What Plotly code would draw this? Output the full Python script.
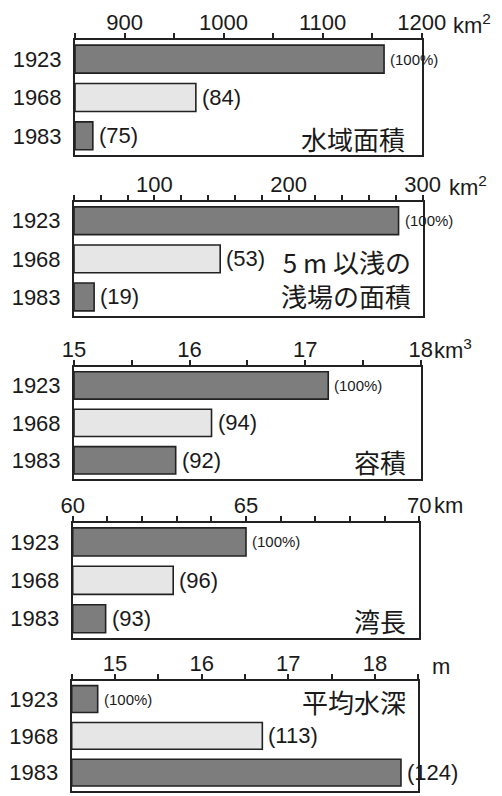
import plotly.graph_objects as go

W, H = 502, 796

years = ["1923", "1968", "1983"]

area_vals = [1162, 972, 868]
area_labels = ["(100%)", "(84)", "(75)"]

shallow_vals = [282, 149, 55]
shallow_labels = ["(100%)", "(53)", "(19)"]

volume_vals = [17.2, 16.19, 15.88]
volume_labels = ["(100%)", "(94)", "(92)"]

length_vals = [65.0, 62.9, 60.95]
length_labels = ["(100%)", "(96)", "(93)"]

depth_vals = [14.8, 16.7, 18.3]
depth_labels = ["(100%)", "(113)", "(124)"]

titles = ["水域面積", "5 m 以浅の<br>浅場の面積", "容積", "湾長", "平均水深"]
units = ["km<sup>2</sup>", "km<sup>2</sup>", "km<sup>3</sup>", "km", "m"]

colors = ["#7d7d7d", "#e6e6e6", "#7d7d7d"]

FONT = "Liberation Sans, Arial, Noto Sans CJK JP, sans-serif"
JFONT = "Noto Sans CJK JP, Liberation Sans, sans-serif"

# layout geometry (pixels)
panels = [
    dict(vals=area_vals, labels=area_labels, x0=75, x1=421.7, y0=40, y1=155,
         rng=[850, 1200], dtick=100, minor=50, unit_x=451, unit_y=24,
         title_x=407, title_y=138),
    dict(vals=shallow_vals, labels=shallow_labels, x0=74, x1=422.7, y0=201.7, y1=316,
         rng=[40, 300], dtick=100, minor=20, unit_x=447, unit_y=186,
         title_x=413, title_y=278),
    dict(vals=volume_vals, labels=volume_labels, x0=74, x1=420.7, y0=366.7, y1=479,
         rng=[15, 18], dtick=1, minor=0.5, unit_x=432, unit_y=349,
         title_x=408, title_y=461),
    dict(vals=length_vals, labels=length_labels, x0=72.7, x1=419.3, y0=522.7, y1=638,
         rng=[60, 70], dtick=5, minor=1, unit_x=432, unit_y=505,
         title_x=408, title_y=620),
    dict(vals=depth_vals, labels=depth_labels, x0=71.7, x1=418.3, y0=680.7, y1=791,
         rng=[14.5, 18.5], dtick=1, minor=0.5, unit_x=430, unit_y=666,
         title_x=408, title_y=701),
]

fig = go.Figure()
annotations = []
layout = {}

for i, p in enumerate(panels):
    n = "" if i == 0 else str(i + 1)
    xa, ya = "x" + n, "y" + n
    base = p["rng"][0]
    fig.add_trace(go.Bar(
        y=years, x=[v - base for v in p["vals"]], base=base, orientation="h",
        marker=dict(color=colors, line=dict(color="#222222", width=1.6)),
        xaxis=xa, yaxis=ya, showlegend=False, hoverinfo="skip",
    ))
    layout["xaxis" + n] = dict(
        domain=[p["x0"] / W, p["x1"] / W], anchor=ya, side="top",
        range=p["rng"], dtick=p["dtick"], tick0=0, ticks="outside", ticklen=5,
        tickwidth=1.5, tickcolor="#222222", automargin=False,
        ticklabelstandoff=-6,
        minor=dict(dtick=p["minor"], tick0=0, ticks="outside", ticklen=5,
                   tickwidth=1.5, tickcolor="#222222"),
        showline=True, linecolor="#222222", linewidth=2, mirror=True,
        showgrid=False, zeroline=False, fixedrange=True,
        tickfont=dict(size=22, color="#1a1a1a", family=FONT),
    )
    layout["yaxis" + n] = dict(
        domain=[1 - p["y1"] / H, 1 - p["y0"] / H], anchor=xa,
        type="category", categoryorder="array", categoryarray=years,
        range=[2.5, -0.5], automargin=False,
        showline=True, linecolor="#222222", linewidth=2,
        mirror=True, ticks="", showgrid=False, zeroline=False,
        ticklabelstandoff=7,
        tickfont=dict(size=22, color="#1a1a1a", family=FONT), fixedrange=True,
    )
    for k, (v, lab) in enumerate(zip(p["vals"], p["labels"])):
        annotations.append(dict(
            x=v, y=k, xref=xa, yref=ya, text=lab, showarrow=False,
            xanchor="left", yanchor="middle", xshift=4,
            font=dict(size=15 if lab.endswith("%)") else 22, color="#1a1a1a", family=FONT),
        ))
    annotations.append(dict(
        x=p["unit_x"] / W, y=1 - p["unit_y"] / H, xref="paper", yref="paper",
        text=units[i], showarrow=False, xanchor="left", yanchor="middle",
        font=dict(size=22, color="#1a1a1a", family=FONT),
    ))
    annotations.append(dict(
        x=p["title_x"] / W, y=1 - p["title_y"] / H, xref="paper", yref="paper",
        text=titles[i], showarrow=False, xanchor="right", yanchor="middle",
        align="right",
        font=dict(size=26, color="#1a1a1a", family=JFONT),
    ))

fig.update_layout(
    width=W, height=H, margin=dict(l=0, r=0, t=0, b=0),
    paper_bgcolor="white", plot_bgcolor="white",
    bargap=0.27, annotations=annotations, **layout,
)

fig.write_html("out.html", config={"displayModeBar": False},
               post_script="document.body.style.margin='0';")
